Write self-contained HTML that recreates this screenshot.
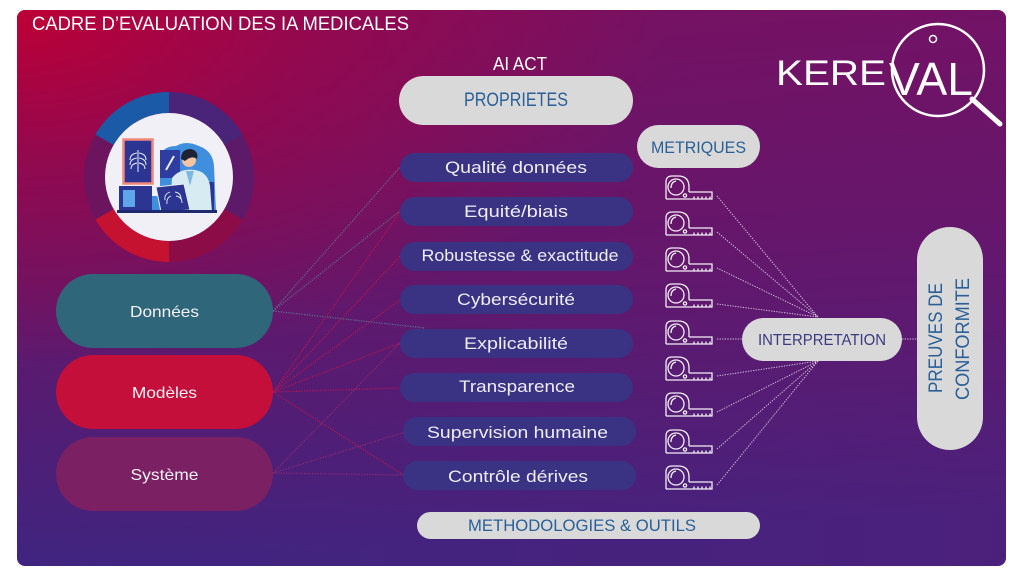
<!DOCTYPE html>
<html><head><meta charset="utf-8">
<style>
html,body{margin:0;padding:0;background:#fff;}
svg{display:block;}
text{font-family:"Liberation Sans",sans-serif;}
</style></head>
<body>
<svg width="1024" height="576" viewBox="0 0 1024 576" xmlns="http://www.w3.org/2000/svg">
<defs>
  <linearGradient id="bg" x1="0" y1="0" x2="0.12" y2="1">
    <stop offset="0" stop-color="#7c0f5e"/>
    <stop offset="0.5" stop-color="#63176a"/>
    <stop offset="1" stop-color="#3e2580"/>
  </linearGradient>
  <linearGradient id="hz" x1="0" y1="0" x2="1" y2="0">
    <stop offset="0" stop-color="#6a1670" stop-opacity="0"/>
    <stop offset="1" stop-color="#6a1670" stop-opacity="0.3"/>
  </linearGradient>
  <radialGradient id="red" cx="17" cy="10" r="650" gradientUnits="userSpaceOnUse" gradientTransform="translate(17,10) scale(1,0.55) translate(-17,-10)">
    <stop offset="0" stop-color="#bd0036" stop-opacity="1"/>
    <stop offset="0.45" stop-color="#b0003c" stop-opacity="0.5"/>
    <stop offset="1" stop-color="#b0003c" stop-opacity="0"/>
  </radialGradient>
  <clipPath id="pc"><rect x="17" y="10" width="989" height="556" rx="8"/></clipPath>
  <g id="tape" fill="none" stroke="#f4eef6" stroke-width="1.3">
    <path d="M1,24 V7 Q1,1 7,1 H13 Q24,1 24,12 V17"/>
    <path d="M1,24 H47 V17 H24"/>
    <circle cx="11" cy="12" r="8"/>
    <path d="M6,13 Q6,7 11,6"/>
    <circle cx="20" cy="20.5" r="1.6"/>
    <path d="M29,24v-2.5 M33,24v-2.5 M37,24v-2.5 M41,24v-2.5 M45,24v-2.5"/>
  </g>
</defs>

<!-- panel -->
<g clip-path="url(#pc)">
  <rect x="17" y="10" width="989" height="556" fill="url(#bg)"/>
  <rect x="17" y="10" width="989" height="556" fill="url(#hz)"/>
  <rect x="17" y="10" width="989" height="556" fill="url(#red)"/>
</g>

<!-- title -->
<text x="32" y="30" font-size="19" fill="#ffffff" textLength="377" lengthAdjust="spacingAndGlyphs">CADRE D’EVALUATION DES IA MEDICALES</text>

<!-- logo -->
<text x="776" y="85" font-size="35" fill="#ffffff" textLength="110" lengthAdjust="spacingAndGlyphs">KERE</text>
<text x="889" y="95" font-size="46" fill="#ffffff" textLength="84" lengthAdjust="spacingAndGlyphs">VAL</text>
<circle cx="933" cy="39" r="3.5" fill="none" stroke="#fff" stroke-width="1.5"/>
<circle cx="938" cy="70" r="46" fill="none" stroke="#fff" stroke-width="2.5"/>
<line x1="972" y1="99" x2="1000" y2="124" stroke="#fff" stroke-width="5" stroke-linecap="round"/>

<!-- donut -->
<g>
  <path d="M169,92 A85,85 0 0 1 242.6,134.5 L224.4,145 A64,64 0 0 0 169,113 Z" fill="#4a2479"/>
  <path d="M242.6,134.5 A85,85 0 0 1 242.6,219.5 L224.4,209 A64,64 0 0 0 224.4,145 Z" fill="#5c1a68"/>
  <path d="M242.6,219.5 A85,85 0 0 1 169,262 L169,241 A64,64 0 0 0 224.4,209 Z" fill="#8c0c48"/>
  <path d="M169,262 A85,85 0 0 1 95.4,219.5 L113.6,209 A64,64 0 0 0 169,241 Z" fill="#c41230"/>
  <path d="M95.4,219.5 A85,85 0 0 1 95.4,134.5 L113.6,145 A64,64 0 0 0 113.6,209 Z" fill="#6c145e"/>
  <path d="M95.4,134.5 A85,85 0 0 1 169,92 L169,113 A64,64 0 0 0 113.6,145 Z" fill="#1b5aa6"/>
  <circle cx="169" cy="177" r="64" fill="#f1f0f6"/>
  <!-- illustration -->
  <path d="M118,212 L132,196 L160,196 V162 Q160,146 176,146 Q186,140 199,146 Q213,151 214,166 L216,212 Z" fill="#3f8fde"/>
  <rect x="160" y="150" width="20" height="28" fill="#2e3d9f"/>
  <path d="M166,170 L174,156" stroke="#e8eefa" stroke-width="2"/>
  <rect x="123.5" y="139.5" width="29" height="44" fill="#2c3592" stroke="#f0877a" stroke-width="2.5"/>
  <g stroke="#e8eefa" stroke-width="1" fill="none">
    <path d="M138,150 V172"/>
    <path d="M137,153 Q130,154 130,160 M137,158 Q130,159 130,165 M137,163 Q131,164 131,169"/>
    <path d="M139,153 Q146,154 146,160 M139,158 Q146,159 146,165 M139,163 Q145,164 145,169"/>
  </g>
  <rect x="119" y="186" width="33" height="24" fill="#2c3592"/>
  <rect x="123" y="190" width="12" height="17" fill="#5fa6e8"/>
  <rect x="196" y="182" width="18" height="28" fill="#2c3592"/>
  <path d="M172,178 Q180,168 195,170 Q208,172 210,186 L212,212 H170 Z" fill="#d7ebf3"/>
  <path d="M186,171 L190,186 L194,171 Z" fill="#7fb8e0"/>
  <circle cx="189" cy="160" r="7" fill="#f2c4a2"/>
  <path d="M181,159 Q181,149 191,149 Q199,151 197,159 Q192,155 185,161 Z" fill="#1e2233"/>
  <path d="M156,187 L184,184 L190,210 L161,212 Z" fill="#2c3592" stroke="#e9eef7" stroke-width="1"/>
  <g stroke="#e8eefa" stroke-width="0.9" fill="none">
    <path d="M170,192 Q164,194 165,200 M171,196 Q166,198 167,204 M175,192 Q181,193 181,199 M176,196 Q182,197 182,203"/>
  </g>
  <rect x="117" y="210" width="100" height="3" fill="#1f2a70"/>
</g>

<!-- connecting lines from left pills -->
<g fill="none" stroke-width="1.2" stroke-dasharray="1.2 1.4">
  <g stroke="#5a8298" stroke-opacity="0.85">
    <line x1="273" y1="311" x2="400" y2="167"/>
    <line x1="273" y1="311" x2="400" y2="211"/>
    <line x1="273" y1="311" x2="425" y2="328"/>
  </g>
  <g stroke="#c8154c" stroke-opacity="0.9">
    <line x1="273" y1="392" x2="400" y2="212"/>
    <line x1="273" y1="392" x2="400" y2="256"/>
    <line x1="273" y1="392" x2="400" y2="300"/>
    <line x1="273" y1="392" x2="400" y2="343"/>
    <line x1="273" y1="392" x2="400" y2="388"/>
    <line x1="273" y1="392" x2="405" y2="476"/>
  </g>
  <g stroke="#9a2a72" stroke-opacity="0.9">
    <line x1="273" y1="473" x2="400" y2="343"/>
    <line x1="273" y1="473" x2="405" y2="432"/>
    <line x1="273" y1="473" x2="405" y2="475"/>
  </g>
</g>

<!-- left pills -->
<rect x="56" y="274" width="217" height="74" rx="37" fill="#2f6679"/>
<rect x="56" y="355" width="217" height="74" rx="37" fill="#c50f3b"/>
<rect x="56" y="437" width="217" height="74" rx="37" fill="#7b2163"/>
<g font-size="16" fill="#f4f2f6" text-anchor="middle">
  <text x="164.5" y="317" textLength="69" lengthAdjust="spacingAndGlyphs">Données</text>
  <text x="164.5" y="398" textLength="65" lengthAdjust="spacingAndGlyphs">Modèles</text>
  <text x="164.5" y="480" textLength="68" lengthAdjust="spacingAndGlyphs">Système</text>
</g>

<!-- AI ACT / PROPRIETES -->
<text x="520" y="70" font-size="18" fill="#ffffff" text-anchor="middle" textLength="54" lengthAdjust="spacingAndGlyphs">AI ACT</text>
<rect x="399" y="76" width="234" height="49" rx="24.5" fill="#d9d9d9"/>
<text x="516" y="106" font-size="19" fill="#2a5f97" text-anchor="middle" textLength="104" lengthAdjust="spacingAndGlyphs">PROPRIETES</text>
<rect x="637" y="125" width="123" height="43" rx="21.5" fill="#d9d9d9"/>
<text x="698.5" y="153" font-size="17" fill="#2a5f97" text-anchor="middle" textLength="95" lengthAdjust="spacingAndGlyphs">METRIQUES</text>

<!-- center pills -->
<g fill="#3a3283">
  <rect x="400" y="153" width="233" height="29" rx="14.5"/>
  <rect x="400" y="197" width="233" height="29" rx="14.5"/>
  <rect x="400" y="242" width="233" height="29" rx="14.5"/>
  <rect x="400" y="285" width="233" height="29" rx="14.5"/>
  <rect x="400" y="329" width="233" height="29" rx="14.5"/>
  <rect x="400" y="373" width="233" height="29" rx="14.5"/>
  <rect x="403" y="417" width="233" height="29" rx="14.5"/>
  <rect x="403" y="461" width="233" height="29" rx="14.5"/>
</g>
<g font-size="17" fill="#eeecf5" text-anchor="middle">
  <text x="516" y="173" textLength="142" lengthAdjust="spacingAndGlyphs">Qualité données</text>
  <text x="516" y="217" textLength="104" lengthAdjust="spacingAndGlyphs">Equité/biais</text>
  <text x="520" y="261" textLength="197" lengthAdjust="spacingAndGlyphs">Robustesse &amp; exactitude</text>
  <text x="516" y="305" textLength="118" lengthAdjust="spacingAndGlyphs">Cybersécurité</text>
  <text x="516" y="349" textLength="104" lengthAdjust="spacingAndGlyphs">Explicabilité</text>
  <text x="517" y="392" textLength="116" lengthAdjust="spacingAndGlyphs">Transparence</text>
  <text x="517.5" y="438" textLength="181" lengthAdjust="spacingAndGlyphs">Supervision humaine</text>
  <text x="518" y="482" textLength="140" lengthAdjust="spacingAndGlyphs">Contrôle dérives</text>
</g>

<!-- tape icons -->
<use href="#tape" x="665" y="175"/>
<use href="#tape" x="665" y="211"/>
<use href="#tape" x="665" y="247"/>
<use href="#tape" x="665" y="283"/>
<use href="#tape" x="665" y="320"/>
<use href="#tape" x="665" y="356"/>
<use href="#tape" x="665" y="392"/>
<use href="#tape" x="665" y="429"/>
<use href="#tape" x="665" y="465"/>

<!-- dotted lines to interpretation -->
<g stroke="#e9dff0" stroke-opacity="0.85" stroke-width="1" stroke-dasharray="1.3 1.3" fill="none">
  <line x1="717" y1="196" x2="818" y2="317"/>
  <line x1="717" y1="232" x2="818" y2="317"/>
  <line x1="717" y1="268" x2="818" y2="317"/>
  <line x1="717" y1="304" x2="818" y2="317"/>
  <line x1="717" y1="339" x2="742" y2="339"/>
  <line x1="717" y1="376" x2="818" y2="361"/>
  <line x1="717" y1="412" x2="818" y2="361"/>
  <line x1="717" y1="449" x2="818" y2="361"/>
  <line x1="717" y1="485" x2="818" y2="361"/>
  <line x1="902" y1="339" x2="917" y2="339"/>
</g>

<!-- interpretation -->
<rect x="742" y="318" width="160" height="43" rx="21.5" fill="#d9d9d9"/>
<text x="822" y="345" font-size="16" fill="#3c3a80" text-anchor="middle" textLength="128" lengthAdjust="spacingAndGlyphs">INTERPRETATION</text>

<!-- preuves -->
<rect x="917" y="227" width="66" height="223" rx="33" fill="#d9d9d9"/>
<g font-size="19" fill="#2a5f97" text-anchor="middle">
  <text transform="translate(942,338) rotate(-90)" x="0" y="0" textLength="110" lengthAdjust="spacingAndGlyphs">PREUVES DE</text>
  <text transform="translate(969,339) rotate(-90)" x="0" y="0" textLength="122" lengthAdjust="spacingAndGlyphs">CONFORMITE</text>
</g>

<!-- methodologies -->
<rect x="417" y="512" width="343" height="27" rx="13.5" fill="#d9d9d9"/>
<text x="582" y="531" font-size="17" fill="#2a5f97" text-anchor="middle" textLength="228" lengthAdjust="spacingAndGlyphs">METHODOLOGIES &amp; OUTILS</text>
</svg>
</body></html>
